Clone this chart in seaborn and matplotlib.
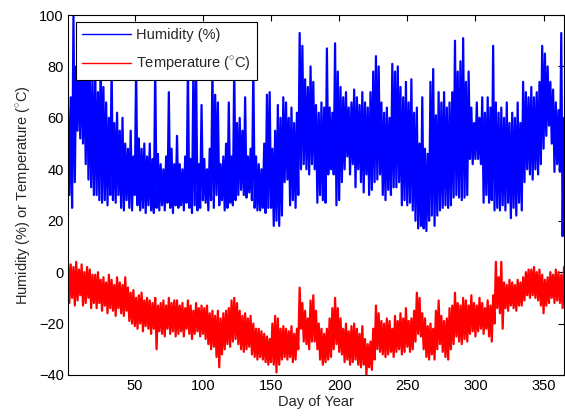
import numpy as np
import pandas as pd
import matplotlib
matplotlib.use("Agg")
import matplotlib.pyplot as plt
import seaborn as sns

# Daily humidity peaks (odd days 1,3,5,...) and troughs (even days 2,4,6,...)
hum_hi = [64, 68, 100, 80, 85, 90, 82, 88, 80, 75,
          78, 70, 85, 72, 66, 60, 80, 58, 62, 55,
          60, 50, 48, 55, 45, 80, 52, 48, 50, 45,
          50, 44, 80, 46, 42, 40, 45, 70, 48, 42,
          53, 42, 40, 45, 80, 44, 78, 80, 42, 65,
          44, 40, 48, 80, 69, 66, 42, 45, 50, 66,
          45, 80, 58, 60, 55, 68, 45, 48, 80, 45,
          42, 40, 50, 69, 70, 48, 55, 65, 60, 68,
          66, 60, 64, 58, 62, 93, 88, 75, 72, 80,
          74, 65, 62, 66, 64, 87, 64, 62, 89, 78,
          72, 68, 70, 64, 66, 71, 68, 65, 70, 66,
          64, 70, 78, 84, 80, 66, 62, 64, 60, 81,
          78, 80, 72, 68, 74, 66, 75, 62, 64, 50,
          68, 48, 46, 74, 79, 61, 70, 66, 70, 64,
          66, 70, 90, 78, 82, 91, 74, 78, 64, 58,
          66, 60, 68, 62, 68, 64, 88, 66, 62, 64,
          60, 66, 58, 62, 60, 66, 58, 74, 70, 68,
          72, 68, 70, 74, 88, 85, 80, 74, 71, 66,
          63, 93, 60]
hum_lo = [30, 25, 35, 55, 52, 50, 42, 36, 33, 30,
          30, 28, 27, 28, 26, 30, 28, 27, 30, 25,
          24, 28, 25, 24, 30, 26, 24, 25, 23, 26,
          24, 23, 25, 24, 26, 24, 27, 25, 23, 26,
          25, 26, 24, 27, 25, 23, 26, 24, 25, 28,
          27, 24, 28, 25, 30, 26, 28, 24, 25, 27,
          26, 28, 30, 32, 30, 29, 31, 28, 25, 24,
          24, 25, 23, 25, 25, 18, 20, 18, 22, 35,
          36, 26, 28, 25, 30, 40, 42, 40, 38, 42,
          40, 27, 30, 28, 27, 38, 40, 38, 26, 28,
          35, 40, 45, 38, 42, 33, 40, 35, 31, 38,
          30, 32, 35, 36, 38, 30, 28, 32, 30, 33,
          33, 35, 26, 28, 26, 27, 24, 20, 17, 18,
          17, 16, 20, 22, 18, 22, 24, 25, 26, 25,
          26, 29, 30, 29, 28, 29, 30, 44, 42, 44,
          44, 42, 27, 30, 27, 28, 24, 25, 24, 26,
          24, 27, 21, 25, 22, 27, 24, 35, 40, 38,
          36, 40, 38, 42, 48, 53, 57, 50, 39, 42,
          39, 14, 45]

# Daily temperature peaks (odd days) and troughs (even days)
temp_hi = [4, 3, 2, 4, 1, 3, 0, 2, 1, -1,
           -1, 0, -3, -2, -4, -1, -3, -5, -2, -4,
           -5, -2, -6, -8, -7, -10, -9, -8, -11, -10,
           -11, -12, -10, -13, -12, -11, -13, -10, -12, -11,
           -11, -13, -12, -14, -11, -13, -15, -12, -14, -13,
           -14, -13, -16, -15, -17, -15, -18, -16, -15, -14,
           -11, -10, -12, -15, -17, -16, -18, -17, -20, -22,
           -22, -23, -24, -25, -26, -20, -17, -18, -22, -21,
           -22, -23, -21, -24, -22, -6, -12, -15, -18, -11,
           -9, -15, -20, -22, -24, -22, -18, -14, -10, -14,
           -18, -22, -20, -23, -21, -20, -22, -24, -21, -26,
           -28, -27, -22, -13, -16, -19, -20, -18, -19, -22,
           -17, -19, -16, -18, -14, -19, -18, -15, -8, -10,
           -16, -18, -21, -20, -22, -15, -11, -17, -19, -18,
           -14, -13, -8, -12, -13, -10, -11, -13, -9, -12,
           -13, -10, -12, -14, -11, -13, -9, 4, -2, 4,
           -4, -5, -3, -4, -5, -3, -4, -2, 0, 1,
           1, 2, 0, 1, -1, -3, -2, 0, -1, 1,
           0, -1, 2]
temp_lo = [-12, -10, -13, -11, -9, -13, -12, -10, -14, -12,
           -14, -12, -15, -13, -16, -14, -15, -17, -14, -16,
           -17, -15, -19, -20, -21, -22, -20, -23, -21, -22,
           -24, -22, -30, -23, -24, -25, -22, -24, -23, -25,
           -24, -23, -25, -22, -24, -26, -24, -23, -25, -24,
           -26, -28, -30, -29, -33, -37, -32, -30, -28, -29,
           -27, -26, -28, -30, -31, -30, -29, -32, -33, -34,
           -33, -34, -35, -36, -35, -36, -39, -36, -34, -33,
           -34, -33, -35, -34, -30, -22, -27, -28, -30, -27,
           -27, -30, -34, -36, -35, -34, -33, -30, -28, -31,
           -32, -35, -34, -36, -35, -34, -36, -37, -36, -40,
           -37, -38, -34, -30, -31, -32, -33, -32, -31, -33,
           -31, -30, -32, -31, -29, -31, -30, -27, -24, -25,
           -30, -33, -34, -32, -34, -30, -28, -31, -33, -34,
           -30, -28, -25, -27, -28, -26, -27, -24, -23, -25,
           -23, -22, -24, -22, -25, -27, -20, -14, -16, -22,
           -14, -15, -13, -14, -15, -13, -13, -11, -9, -10,
           -9, -10, -11, -13, -16, -13, -12, -10, -12, -11,
           -12, -14, -10]

def build(hi, lo, name):
    n = len(hi)
    day_hi = np.arange(n) * 2 + 1
    day_lo = np.arange(n) * 2 + 2
    day = np.empty(2 * n)
    val = np.empty(2 * n)
    day[0::2], day[1::2] = day_hi, day_lo
    val[0::2], val[1::2] = hi, lo
    return pd.DataFrame({"day": day, "value": val, "series": name})

lab_h = "Humidity (%)"
lab_t = "Temperature ($^{\\circ}$C)"
df = pd.concat([build(hum_hi, hum_lo, lab_h), build(temp_hi, temp_lo, lab_t)])

sns.set_style("white")
plt.rcParams["font.family"] = ["Liberation Sans", "DejaVu Sans"]
plt.rcParams["mathtext.fontset"] = "custom"
plt.rcParams["mathtext.rm"] = "Liberation Sans"

fs = 10.5
fig = plt.figure(figsize=(5.65, 4.2), dpi=100)
ax = fig.add_axes([68 / 565, 45 / 420, 496 / 565, 360 / 420])
sns.lineplot(data=df, x="day", y="value", hue="series",
             palette={lab_h: "#0000FF", lab_t: "#FF0000"},
             estimator=None, linewidth=1.6, ax=ax)

ax.set_xlim(1, 365)
ax.set_ylim(-40, 100)
ax.set_xticks([50, 100, 150, 200, 250, 300, 350])
ax.set_yticks([-40, -20, 0, 20, 40, 60, 80, 100])
ax.tick_params(direction="in", top=True, right=True, length=4, width=0.8,
               labelsize=fs, colors="black", pad=3)
for s in ax.spines.values():
    s.set_color("black")
    s.set_linewidth(0.8)
ax.set_xlabel("Day of Year", fontsize=fs, labelpad=1)
ax.set_ylabel("Humidity (%) or Temperature ($^{\\circ}$C)", fontsize=fs, labelpad=4)

leg = ax.legend(loc="upper left", bbox_to_anchor=(0.016, 0.981), borderaxespad=0,
                fontsize=fs, frameon=True, fancybox=False, handlelength=3.3,
                handletextpad=0.35, labelspacing=0.85, borderpad=0.45)
leg.get_frame().set_edgecolor("black")
leg.get_frame().set_linewidth(0.8)
leg.get_frame().set_alpha(1)
leg.set_title(None)
for h in leg.get_lines():
    h.set_linewidth(1.0)

fig.savefig("out.png", dpi=100)
